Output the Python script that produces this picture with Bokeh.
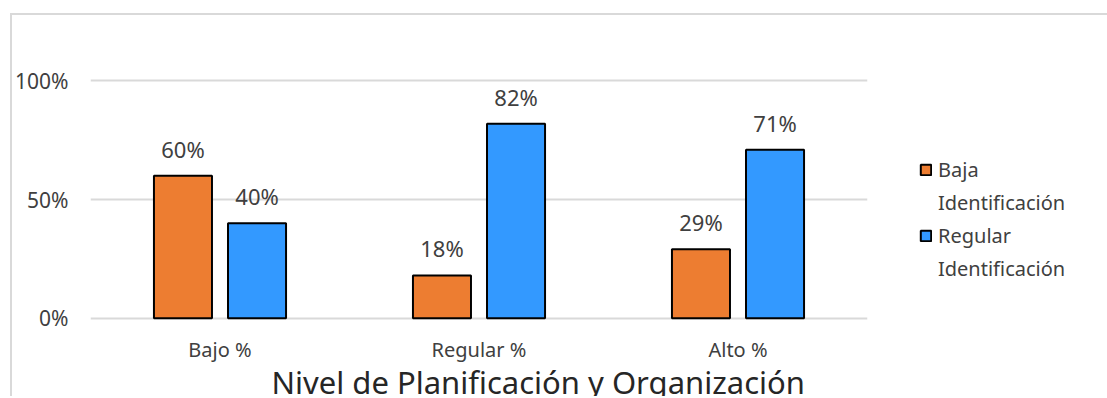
from bokeh.plotting import figure
from bokeh.models import (ColumnDataSource, FactorRange, Range1d, FixedTicker,
                          LabelSet, Legend, LegendItem, NumeralTickFormatter, Title)
from bokeh.core.properties import value
from bokeh.transform import dodge
from bokeh.embed import file_html
from bokeh.resources import INLINE

# Data
categories = ["Bajo %", "Regular %", "Alto %"]
baja_identificacion = [0.60, 0.18, 0.29]
regular_identificacion = [0.40, 0.82, 0.71]
series_lines = [["Baja", "Identificación"], ["Regular", "Identificación"]]
y_ticks = [0, 0.5, 1.0]

ORANGE = "#ED7D31"
BLUE = "#3399FF"
TEXT = "#404040"
GRID = "#d9d9d9"
FONT = "Noto Sans"

source = ColumnDataSource(dict(
    cat=categories,
    baja=baja_identificacion,
    regular=regular_identificacion,
    baja_txt=[f"{v:.0%}" for v in baja_identificacion],
    regular_txt=[f"{v:.0%}" for v in regular_identificacion],
))

p = figure(
    width=None, height=None, frame_width=777, frame_height=287,
    x_range=FactorRange(*categories, range_padding=0),
    y_range=Range1d(-0.01, 1.2),
    output_backend="svg", toolbar_location=None,
    min_border_left=78, min_border_right=10,
    min_border_top=18, min_border_bottom=0,
)
p.margin = (13, 0, 0, 10)
p.styles = {"border-top": f"2px solid {GRID}", "border-left": f"2px solid {GRID}"}
p.outline_line_color = None

bar_w = 0.224
off = 0.143
r1 = p.vbar(x=dodge("cat", -off, range=p.x_range), top="baja", bottom=0, width=bar_w,
            source=source, fill_color=ORANGE, line_color="black", line_width=2)
r2 = p.vbar(x=dodge("cat", off, range=p.x_range), top="regular", bottom=0, width=bar_w,
            source=source, fill_color=BLUE, line_color="black", line_width=2)
# empty, transparent renderer used for the second line of each legend entry
blank = p.scatter(x=[], y=[], fill_alpha=0, line_alpha=0)

for col, txt, d in (("baja", "baja_txt", -off), ("regular", "regular_txt", off)):
    p.add_layout(LabelSet(
        x=dodge("cat", d, range=p.x_range), y=col, text=txt, source=source,
        y_offset=12, text_align="center", text_baseline="bottom",
        text_font=value(FONT), text_font_size="22px", text_color=TEXT))

# Axes and grid
p.xgrid.grid_line_color = None
p.ygrid.grid_line_color = GRID
p.ygrid.grid_line_width = 2
p.ygrid.ticker = FixedTicker(ticks=y_ticks)

p.yaxis.ticker = FixedTicker(ticks=y_ticks)
p.yaxis.formatter = NumeralTickFormatter(format="0%")
p.yaxis.axis_line_color = None
p.yaxis.major_tick_line_color = None
p.yaxis.minor_tick_line_color = None
p.yaxis.major_tick_out = 0
p.yaxis.minor_tick_out = 0
p.yaxis.major_label_standoff = 22
p.yaxis.major_label_text_font = FONT
p.yaxis.major_label_text_font_size = "21px"
p.yaxis.major_label_text_color = TEXT

p.xaxis.axis_line_color = None
p.xaxis.major_tick_line_color = None
p.xaxis.minor_tick_line_color = None
p.xaxis.major_tick_out = 0
p.xaxis.minor_tick_out = 0
p.xaxis.major_label_standoff = 15
p.xaxis.major_label_text_font = FONT
p.xaxis.major_label_text_font_size = "20px"
p.xaxis.major_label_text_color = TEXT

p.add_layout(Title(
    text="Nivel de Planificación y Organización", align="left", offset=181,
    text_font=FONT, text_font_size="31px", text_font_style="normal",
    text_color="#262626", standoff=-13), "below")

items = []
for lines, rend in zip(series_lines, (r1, r2)):
    items.append(LegendItem(label=lines[0], renderers=[rend]))
    items.append(LegendItem(label=lines[1], renderers=[blank]))

legend = Legend(
    items=items, location=(52, 38), padding=0, margin=0, spacing=6,
    glyph_width=13, glyph_height=13, label_standoff=6, label_height=24,
    label_text_font=FONT, label_text_font_size="20px",
    label_text_color=TEXT,
    border_line_color=None, background_fill_alpha=0,
)
p.add_layout(legend, "right")

open("out.html", "w").write(file_html(p, INLINE))
